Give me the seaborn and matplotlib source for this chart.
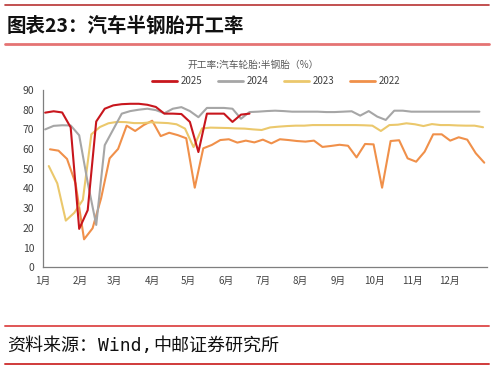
import matplotlib
matplotlib.use("Agg")
import matplotlib.pyplot as plt
from matplotlib.lines import Line2D
import numpy as np
import pandas as pd
import seaborn as sns

# ---------------- data ----------------
years = ["2025", "2024", "2023", "2022"]
start_dates = {"2025": "2025-01-03", "2024": "2024-01-03", "2023": "2023-01-06", "2022": "2022-01-07"}

v2025 = [78.5, 79.2, 78.6, 71.0, 19.5, 29.0, 74.0, 80.5, 82.2, 82.8, 83.0, 83.0, 82.5, 81.4,
         78.0, 78.0, 77.8, 73.8, 58.5, 78.0, 78.0, 78.0, 73.8, 77.5, 78.0]
v2024 = [70.0, 71.8, 72.1, 72.0, 67.0, 43.0, 21.5, 62.0, 70.0, 78.0,
         79.3, 80.0, 80.5, 79.8, 78.2, 80.5, 81.3, 79.3, 76.2, 80.9,
         80.9, 80.9, 80.5, 75.4, 78.8, 79.0, 79.3, 79.5, 79.3, 79.0,
         79.0, 79.0, 79.0, 78.8, 78.8, 79.0, 79.2, 77.0, 79.3, 76.5,
         74.8, 79.5, 79.5, 79.0, 79.0, 79.0, 79.0, 79.0, 79.0, 79.0, 79.0, 79.0]
v2023 = [51.4, 42.6, 23.7, 27.7, 34.2, 67.5, 71.2, 73.1, 73.8, 73.7,
         73.2, 73.2, 73.6, 73.4, 73.2, 72.6, 70.4, 61.0, 70.5, 70.9,
         70.8, 70.7, 70.5, 70.4, 70.0, 69.7, 71.0, 71.4, 71.7, 71.9,
         71.9, 72.2, 72.2, 72.2, 72.2, 72.2, 72.2, 72.1, 71.9, 69.2,
         72.2, 72.4, 73.1, 72.6, 71.7, 72.7, 72.2, 72.2, 72.0, 71.9, 71.9, 71.1]
v2022 = [59.9, 59.2, 55.0, 42.6, 14.2, 19.8, 35.0, 55.3, 60.1, 71.9,
         69.2, 72.2, 74.4, 66.6, 68.3, 67.1, 65.5, 40.4, 60.4, 62.1,
         64.6, 65.0, 63.3, 64.3, 63.4, 64.8, 62.9, 65.0, 64.6, 64.1,
         63.8, 64.3, 61.1, 61.6, 62.2, 61.7, 55.8, 62.6, 62.4, 40.4,
         64.1, 64.5, 55.3, 53.6, 58.7, 67.5, 67.5, 64.3, 66.0, 64.8, 57.9, 53.1]
values = {"2025": v2025, "2024": v2024, "2023": v2023, "2022": v2022}

month_labels = ["1月", "2月", "3月", "4月", "5月", "6月", "7月", "8月", "9月", "10月", "11月", "12月", ""]
month_starts = [0, 31, 59, 90, 120, 151, 181, 212, 243, 273, 304, 334, 365]
y_ticks = [0, 10, 20, 30, 40, 50, 60, 70, 80, 90]

title = "图表23：汽车半钢胎开工率"
chart_title = "开工率:汽车轮胎:半钢胎（%）"
source_parts = ["资料来源：", "Wind,", "中邮证券研究所"]

colors = {"2025": "#C8161D", "2024": "#A6A6A6", "2023": "#EBC86C", "2022": "#F0904A"}

# ---------------- build table ----------------
rows = []
for y in years:
    dates = pd.date_range(start_dates[y], periods=len(values[y]), freq="7D")
    for d, v in zip(dates, values[y]):
        rows.append({"year": y, "day": d.dayofyear - 1, "rate": v})
df = pd.DataFrame(rows)

# ---------------- plot ----------------
sns.set_style("white")
plt.rcParams["font.family"] = ["Noto Sans CJK SC", "DejaVu Sans"]

fig = plt.figure(figsize=(4.94, 3.70), dpi=100)
ax = fig.add_axes([42.7 / 494, 1 - 267.3 / 370, 444 / 494, 177.3 / 370])

sns.lineplot(data=df, x="day", y="rate", hue="year", hue_order=years[::-1],
             palette=colors, linewidth=1.5, ax=ax, legend=False)

ax.set_xlim(0, 365)
ax.set_ylim(0, 90)
ax.set_xticks(month_starts)
ax.set_xticklabels(month_labels)
ax.set_yticks(y_ticks)
ax.set_xlabel("")
ax.set_ylabel("")
for s in ["top", "right"]:
    ax.spines[s].set_visible(False)
for s in ["left", "bottom"]:
    ax.spines[s].set_color("#7F7F7F")
    ax.spines[s].set_linewidth(0.9)
ax.tick_params(axis="x", direction="in", length=3, width=0.8, color="#7F7F7F",
               labelcolor="#404040", labelsize=7, pad=6)
ax.tick_params(axis="y", direction="out", length=3, width=0.8, color="#7F7F7F",
               labelcolor="#404040", labelsize=7.5, pad=3)
ax.grid(False)

# legend
handles = [Line2D([0], [0], color=colors[y], lw=2) for y in years]
leg = fig.legend(handles, years, loc="center", bbox_to_anchor=(276 / 494, 1 - 81 / 370),
                 ncol=4, frameon=False, fontsize=7, handlelength=2.6, handletextpad=0.4,
                 columnspacing=1.55)
for t in leg.get_texts():
    t.set_color("#404040")

# titles and decorations
fig.text(7 / 494, 1 - 26 / 370, title, fontsize=14, fontweight="bold", color="#111111",
         ha="left", va="center")
fig.text(253 / 494, 1 - 65 / 370, chart_title, fontsize=7, color="#595959",
         ha="center", va="center")

# source line: CJK parts plus monospaced "Wind,"
fig.canvas.draw()
renderer = fig.canvas.get_renderer()
x_px = 7.0
y_src = 1 - 346 / 370
fams = [["Noto Sans CJK SC", "DejaVu Sans"], ["DejaVu Sans Mono"], ["Noto Sans CJK SC", "DejaVu Sans"]]
for part, fam in zip(source_parts, fams):
    t = fig.text(x_px / 494, y_src, part, fontsize=13, color="#111111", family=fam,
                 ha="left", va="center")
    bb = t.get_window_extent(renderer=renderer)
    x_px = bb.x1 + 1

def hline(ypix, color, lw):
    fig.add_artist(Line2D([5 / 494, 489 / 494], [1 - ypix / 370, 1 - ypix / 370],
                          color=color, lw=lw, transform=fig.transFigure))

hline(5, "#B83232", 1.2)
hline(43.5, "#E57373", 2.0)
hline(326, "#E05555", 1.4)
hline(364, "#D03A3A", 1.4)

fig.savefig("out.png", dpi=100)
